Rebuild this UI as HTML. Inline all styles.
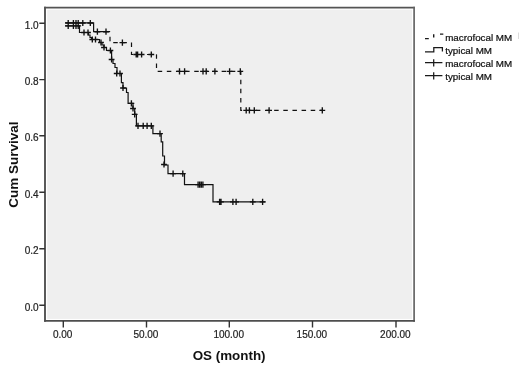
<!DOCTYPE html>
<html><head><meta charset="utf-8"><style>
html,body{margin:0;padding:0;background:#fff;}
svg{display:block;filter:blur(0.4px);}
text{font-family:"Liberation Sans",sans-serif;fill:#111;}
.lg text{stroke:#111;stroke-width:0.22px;}
.tk text{fill:#222;stroke:#222;stroke-width:0.2px;}
</style></head><body>
<svg width="520" height="370" viewBox="0 0 520 370">
<rect x="0" y="0" width="520" height="370" fill="#fff"/>
<rect x="47.2" y="9.7" width="364.8" height="309.2" fill="#efefef"/>
<path d="M45,6.8V321.7" stroke="#484848" stroke-width="1.8" fill="none"/>
<path d="M44.1,7.6H414.9" stroke="#545454" stroke-width="1.7" fill="none"/>
<path d="M414.1,6.8V321.7" stroke="#666" stroke-width="1.7" fill="none"/>
<path d="M44.1,320.9H414.9" stroke="#4e4e4e" stroke-width="1.7" fill="none"/>
<path d="M39.3,23.2H45M39.3,79.6H45M39.3,135.8H45M39.3,192.2H45M39.3,248.8H45M39.3,305.2H45M63.3,321V327.5M146.5,321V327.5M229.3,321V327.5M312.5,321V327.5M396,321V327.5" stroke="#333" stroke-width="1.4" fill="none"/>
<g class="tk" font-size="10"><text x="38.6" y="28.7" text-anchor="end">1.0</text><text x="38.6" y="85.1" text-anchor="end">0.8</text><text x="38.6" y="141.3" text-anchor="end">0.6</text><text x="38.6" y="197.7" text-anchor="end">0.4</text><text x="38.6" y="254.3" text-anchor="end">0.2</text><text x="38.6" y="310.7" text-anchor="end">0.0</text><text x="62.7" y="338.1" text-anchor="middle">0.00</text><text x="145.9" y="338.1" text-anchor="middle">50.00</text><text x="228.7" y="338.1" text-anchor="middle">100.00</text><text x="311.9" y="338.1" text-anchor="middle">150.00</text><text x="395.4" y="338.1" text-anchor="middle">200.00</text></g>
<path d="M65,22.9 H93.6 V31.7 H110" stroke="#111" stroke-width="1.2" fill="none"/>
<path d="M110,31.7 V42.6 H131.5 V54.5 H156.5" stroke="#111" stroke-width="1.2" fill="none" stroke-dasharray="4.5 4.64" stroke-dashoffset="4.14"/>
<path d="M156.5,54.5 V71.4 H240.8 V110.3 H323" stroke="#111" stroke-width="1.2" fill="none" stroke-dasharray="4.5 4.64" stroke-dashoffset="0.2"/>
<path d="M65,25.8 H79.5 V32.5 H88.5 V35 H90 V37.5 H91.5 V39.5 H99.5 V42.5 H102 V45 H104 V47.5 H106.5 V50.5 H111.6 V59.5 H113 V63.5 H115 V67.5 H117 V73.5 H121.4 V82.7 H123 V88 H126.5 V92.5 H128.1 V103.3 H133 V108.5 H134.7 V114.4 H136.4 V125.8 H152.9 V133.6 H161.2 V141.8 H162.7 V156 H164.5 V165 H168 V173.6 H184.5 V184.6 H213 V201.9 H265.5" stroke="#111" stroke-width="1.2" fill="none"/>
<path d="M65.3,25.8h5.8M68.2,22.7v6.2M70.5,25.8h5.8M73.4,22.7v6.2M73.1,25.8h5.8M76.0,22.7v6.2M75.3,25.8h5.8M78.2,22.7v6.2M81.1,32.5h5.8M84.0,29.4v6.2M85.1,32.5h5.8M88.0,29.4v6.2M89.4,39.5h5.8M92.3,36.4v6.2M92.6,39.5h5.8M95.5,36.4v6.2M98.1,42.5h5.8M101.0,39.4v6.2M101.1,47.5h5.8M104.0,44.4v6.2M107.5,50.5h5.8M110.4,47.4v6.2M108.7,59.5h5.8M111.6,56.4v6.2M113.8,73.5h5.8M116.7,70.4v6.2M117.1,73.5h5.8M120.0,70.4v6.2M120.1,88.0h5.8M123.0,84.9v6.2M128.5,103.3h5.8M131.4,100.2v6.2M130.1,108.5h5.8M133.0,105.4v6.2M131.8,114.4h5.8M134.7,111.3v6.2M135.1,125.8h5.8M138.0,122.7v6.2M140.3,125.8h5.8M143.2,122.7v6.2M144.2,125.8h5.8M147.1,122.7v6.2M148.4,125.8h5.8M151.3,122.7v6.2M157.1,133.6h5.8M160.0,130.5v6.2M161.1,164.5h5.8M164.0,161.4v6.2M170.2,173.6h5.8M173.1,170.5v6.2M179.9,173.6h5.8M182.8,170.5v6.2M195.2,184.6h5.8M198.1,181.5v6.2M196.8,184.6h5.8M199.7,181.5v6.2M198.4,184.6h5.8M201.3,181.5v6.2M200.0,184.6h5.8M202.9,181.5v6.2M216.7,201.9h5.8M219.6,198.8v6.2M218.1,201.9h5.8M221.0,198.8v6.2M230.0,201.9h5.8M232.9,198.8v6.2M233.2,201.9h5.8M236.1,198.8v6.2M249.9,201.9h5.8M252.8,198.8v6.2M259.7,201.9h5.8M262.6,198.8v6.2M65.3,23.0h5.8M68.2,19.9v6.2M70.5,23.0h5.8M73.4,19.9v6.2M73.1,23.0h5.8M76.0,19.9v6.2M75.3,23.0h5.8M78.2,19.9v6.2M79.9,23.0h5.8M82.8,19.9v6.2M87.4,23.0h5.8M90.3,19.9v6.2M94.5,31.7h5.8M97.4,28.6v6.2M103.1,31.7h5.8M106.0,28.6v6.2M119.5,42.6h5.8M122.4,39.5v6.2M133.3,54.5h5.8M136.2,51.4v6.2M134.7,54.5h5.8M137.6,51.4v6.2M138.7,54.5h5.8M141.6,51.4v6.2M148.4,54.5h5.8M151.3,51.4v6.2M176.6,71.4h5.8M179.5,68.3v6.2M181.7,71.4h5.8M184.6,68.3v6.2M200.1,71.4h5.8M203.0,68.3v6.2M203.3,71.4h5.8M206.2,68.3v6.2M212.0,71.4h5.8M214.9,68.3v6.2M226.7,71.4h5.8M229.6,68.3v6.2M237.4,71.4h5.8M240.3,68.3v6.2M243.3,110.3h5.8M246.2,107.2v6.2M246.5,110.3h5.8M249.4,107.2v6.2M251.4,110.3h5.8M254.3,107.2v6.2M266.2,110.3h5.8M269.1,107.2v6.2M319.4,110.3h5.8M322.3,107.2v6.2" stroke="#111" stroke-width="1.35" fill="none"/>
<text x="229.1" y="360.4" font-size="13.4" font-weight="bold" text-anchor="middle" fill="#111">OS (month)</text>
<text transform="translate(17.8,164.6) rotate(-90)" font-size="13.5" font-weight="bold" text-anchor="middle" fill="#111">Cum Survival</text>
<g class="lg" font-size="9.8">
<path d="M425,38.6H428.8M433.7,34.2V37.4M440,34.1H443.3" stroke="#1a1a1a" stroke-width="1.4" fill="none"/>
<text x="445.2" y="40.6">macrofocal MM</text>
<path d="M425,51.8H433.8V47.6H442.4V51.4" stroke="#1a1a1a" stroke-width="1.25" fill="none"/>
<text x="445.2" y="53.5">typical MM</text>
<path d="M425,62.6H442.4M433.7,59.3V66.5" stroke="#1a1a1a" stroke-width="1.25" fill="none"/>
<text x="445.2" y="67.2">macrofocal MM</text>
<path d="M425,75.7H442.4M433.7,72.3V79.6" stroke="#1a1a1a" stroke-width="1.25" fill="none"/>
<text x="445.2" y="79.8">typical MM</text>
</g>
<path d="M518.5,32.5V39" stroke="#dcdcdc" stroke-width="1"/>
</svg>
</body></html>
